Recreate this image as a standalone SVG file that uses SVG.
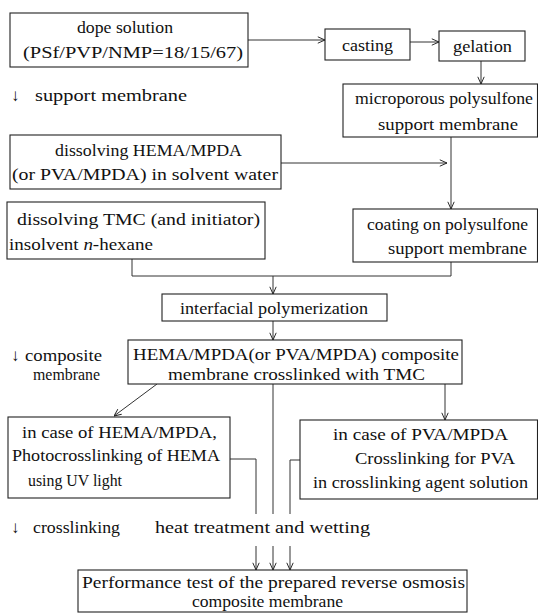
<svg xmlns="http://www.w3.org/2000/svg" width="538" height="613" viewBox="0 0 538 613">
<defs>
<marker id="ah" viewBox="0 0 10 10" refX="10" refY="5" markerWidth="8" markerHeight="8" markerUnits="userSpaceOnUse" orient="auto">
<path d="M1,1 L10,5 L1,9" fill="none" stroke="#222" stroke-width="1.2"/>
</marker>
<style>
.box{fill:#fff;stroke:#222;stroke-width:1.1}
.ln{fill:none;stroke:#333;stroke-width:1}
.ar{fill:none;stroke:#333;stroke-width:1;marker-end:url(#ah)}
text{font-family:"Liberation Serif","DejaVu Serif",serif;font-size:17px;fill:#111}
</style>
</defs>
<rect width="538" height="613" fill="#fff"/>
<g id="connectors">
<path class="ar" d="M248,40 H325"/>
<path class="ar" d="M410,42 H439"/>
<path class="ar" d="M481,61 V84"/>
<path class="ar" d="M451,137 V209"/>
<path class="ar" d="M281,163 H447"/>
<path class="ln" d="M132,259 V276 H451 V262"/>
<path class="ar" d="M273,276 V294"/>
<path class="ar" d="M273,321 V340"/>
<path class="ar" d="M157,384 L114,416"/>
<path class="ar" d="M445,384 V420"/>
<path class="ln" d="M230,459 H256 V514"/>
<path class="ln" d="M273,384 V514"/>
<path class="ln" d="M300,460 H290 V514"/>
<path class="ar" d="M256,546 V570"/>
<path class="ar" d="M273,546 V570"/>
<path class="ar" d="M290,546 V570"/>
</g>
<g id="dope">
<rect class="box" x="10" y="13" width="238" height="54"/>
<text x="77" y="33" textLength="96" lengthAdjust="spacingAndGlyphs">dope solution</text>
<text x="23" y="58" textLength="220" lengthAdjust="spacingAndGlyphs">(PSf/PVP/NMP=18/15/67)</text>
</g>
<g id="casting">
<rect class="box" x="325" y="29" width="85" height="31"/>
<text x="342" y="51" textLength="51" lengthAdjust="spacingAndGlyphs">casting</text>
</g>
<g id="gelation">
<rect class="box" x="439" y="31" width="86" height="30"/>
<text x="453" y="52" textLength="59" lengthAdjust="spacingAndGlyphs">gelation</text>
</g>
<g id="microporous">
<rect class="box" x="343" y="84" width="194.5" height="53"/>
<text x="355" y="104" textLength="178" lengthAdjust="spacingAndGlyphs">microporous polysulfone</text>
<text x="378" y="130" textLength="140" lengthAdjust="spacingAndGlyphs">support membrane</text>
</g>
<g id="label-support">
<text x="11" y="101">↓</text>
<text x="35" y="101" textLength="152" lengthAdjust="spacingAndGlyphs">support membrane</text>
</g>
<g id="hema-solution">
<rect class="box" x="10" y="135" width="271" height="54"/>
<text x="55" y="156" textLength="187" lengthAdjust="spacingAndGlyphs">dissolving HEMA/MPDA</text>
<text x="12" y="180" textLength="266" lengthAdjust="spacingAndGlyphs">(or PVA/MPDA) in solvent water</text>
</g>
<g id="tmc-solution">
<rect class="box" x="7" y="202" width="258" height="57"/>
<text x="17" y="225" textLength="243" lengthAdjust="spacingAndGlyphs">dissolving TMC (and initiator)</text>
<text x="9" y="250" textLength="144" lengthAdjust="spacingAndGlyphs">insolvent <tspan font-style="italic">n</tspan>-hexane</text>
</g>
<g id="coating">
<rect class="box" x="353" y="209" width="184.5" height="53"/>
<text x="367" y="230" textLength="161" lengthAdjust="spacingAndGlyphs">coating on polysulfone</text>
<text x="388" y="254" textLength="139" lengthAdjust="spacingAndGlyphs">support membrane</text>
</g>
<g id="interfacial">
<rect class="box" x="162" y="294" width="225" height="27"/>
<text x="180" y="314" textLength="188" lengthAdjust="spacingAndGlyphs">interfacial polymerization</text>
</g>
<g id="composite">
<rect class="box" x="128" y="340" width="334" height="44"/>
<text x="133" y="360" textLength="326" lengthAdjust="spacingAndGlyphs">HEMA/MPDA(or PVA/MPDA) composite</text>
<text x="168" y="380" textLength="257" lengthAdjust="spacingAndGlyphs">membrane crosslinked with TMC</text>
</g>
<g id="label-composite">
<text x="11" y="361">↓</text>
<text x="25" y="361" textLength="77" lengthAdjust="spacingAndGlyphs">composite</text>
<text x="33" y="380" textLength="67" lengthAdjust="spacingAndGlyphs">membrane</text>
</g>
<g id="hema-case">
<rect class="box" x="8" y="417" width="222" height="81"/>
<text x="22" y="438" textLength="195" lengthAdjust="spacingAndGlyphs">in case of HEMA/MPDA,</text>
<text x="12" y="461" textLength="208" lengthAdjust="spacingAndGlyphs">Photocrosslinking of HEMA</text>
<text x="28" y="486" textLength="94" lengthAdjust="spacingAndGlyphs">using UV light</text>
</g>
<g id="pva-case">
<rect class="box" x="300" y="420" width="237.5" height="79"/>
<text x="333" y="440" textLength="175" lengthAdjust="spacingAndGlyphs">in case of PVA/MPDA</text>
<text x="355" y="464" textLength="160" lengthAdjust="spacingAndGlyphs">Crosslinking for PVA</text>
<text x="313" y="488" textLength="215" lengthAdjust="spacingAndGlyphs">in crosslinking agent solution</text>
</g>
<g id="label-crosslinking">
<text x="11" y="533">↓</text>
<text x="33" y="533" textLength="87" lengthAdjust="spacingAndGlyphs">crosslinking</text>
</g>
<g id="label-heat">
<text x="155" y="533" textLength="215" lengthAdjust="spacingAndGlyphs">heat treatment and wetting</text>
</g>
<g id="performance">
<rect class="box" x="78" y="570" width="389" height="42"/>
<text x="82" y="588" textLength="383" lengthAdjust="spacingAndGlyphs">Performance test of the prepared reverse osmosis</text>
<text x="192" y="607" textLength="151" lengthAdjust="spacingAndGlyphs">composite membrane</text>
</g>
</svg>
